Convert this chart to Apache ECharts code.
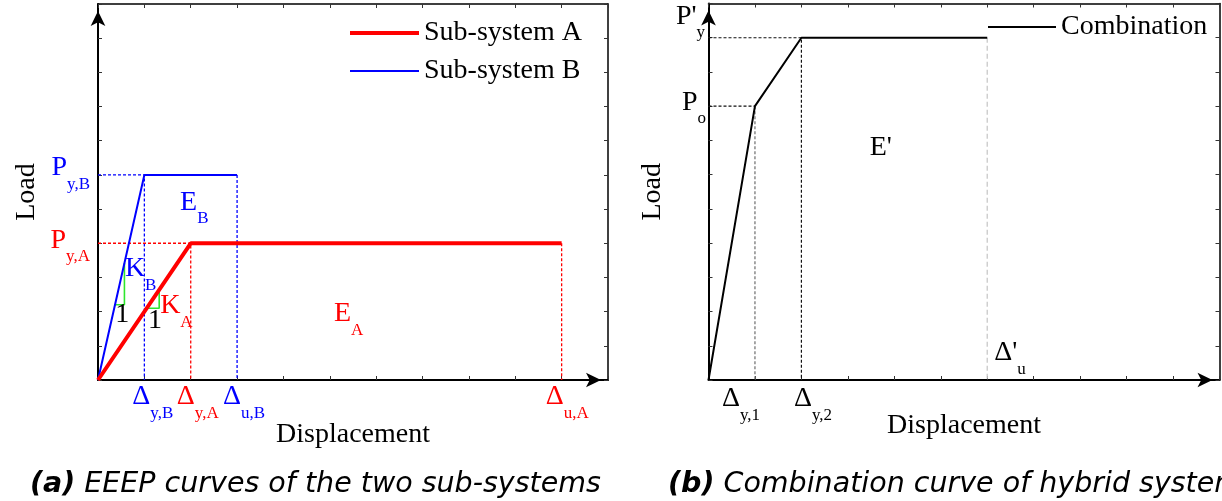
<!DOCTYPE html>
<html><head><meta charset="utf-8">
<script src="https://cdn.jsdelivr.net/npm/echarts@6/dist/echarts.min.js"></script>
<style>html,body{margin:0;padding:0;background:#fff}#c{width:1222px;height:501px}</style>
</head><body><div id="c"></div>
<script>
// ---------------- data (in axis units) ----------------
const axisMax = 11;
// (a) EEEP curves: origin -> yield point -> ultimate point
const subSystemA = [[0, 0], [2, 4], [10, 4]];
const subSystemB = [[0, 0], [1, 6], [3, 6]];
// stiffness triangles (K_A, K_B) drawn on the elastic branches
const slopeTriangleB = [[0.36, 2.2], [0.57, 2.2], [0.57, 3.42]];
const slopeTriangleA = [[1.05, 2.1], [1.32, 2.1], [1.32, 2.64]];
// (b) combination curve
const combination = [[0, 0], [1, 8], [2, 10], [6, 10]];

// tick labels
const leftXTicks = [
  {value: 1, text: 'Δ', sub: 'y,B', sys: 'B'},
  {value: 2, text: 'Δ', sub: 'y,A', sys: 'A'},
  {value: 3, text: 'Δ', sub: 'u,B', sys: 'B'},
  {value: 10, text: 'Δ', sub: 'u,A', sys: 'A'}
];
const leftYTicks = [
  {value: 6, text: 'P', sub: 'y,B', sys: 'B'},
  {value: 4, text: 'P', sub: 'y,A', sys: 'A'}
];
const rightXTicks = [
  {value: 1, text: 'Δ', sub: 'y,1'},
  {value: 2, text: 'Δ', sub: 'y,2'}
];
const rightYTicks = [
  {value: 10, text: "P'", sub: 'y'},
  {value: 8, text: 'P', sub: 'o'}
];
// in-plot notes (anchor in axis units)
const leftNotes = [
  {at: [0.58, 3.14], text: 'K', sub: 'B', sys: 'B'},
  {at: [0.37, 1.90], text: '1'},
  {at: [1.08, 1.73], text: '1'},
  {at: [1.34, 2.06], text: 'K', sub: 'A', sys: 'A'},
  {at: [1.77, 5.08], text: 'E', sub: 'B', sys: 'B'},
  {at: [5.09, 1.81], text: 'E', sub: 'A', sys: 'A'}
];
const rightNotes = [
  {at: [3.47, 6.80], text: "E'"},
  {at: [6.15, 0.67], text: "Δ'", sub: 'u'}
];
const seriesNames = ['Sub-system A', 'Sub-system B', 'Combination'];
const captions = [['(a)', ' EEEP curves of the two sub-systems'], ['(b)', ' Combination curve of hybrid system']];

// ---------------- layout / style (pixels) ----------------
const leftXTickShift = [[-12, 21], [-14, 21], [-14, 21], [-16, 21]];
const leftYTickShift = [[-8, -3], [-8, 1]];
const rightXTickShift = [[-33, 23], [-7.5, 23]];
const rightYTickShift = [[-32.5, -17.5], [-26.5, 0]];
const SUB_SHIFT = 7;

const SERIF = '"Liberation Serif","Times New Roman",serif';
const SANS = '"DejaVu Sans",sans-serif';
const RED = '#ff0000', BLUE = '#0000ff', BLACK = '#000000', GREEN = '#2ee62e';

const RICH = {};
[['R', RED], ['B', BLUE], ['K', BLACK]].forEach(([k, c]) => {
  RICH['m' + k] = {fontFamily: SERIF, fontSize: 28, lineHeight: 28, padding: [0, 0, 11, 0], verticalAlign: 'bottom', color: c};
  RICH['s' + k] = {fontFamily: SERIF, fontSize: 17, lineHeight: 17, verticalAlign: 'bottom', color: c};
  RICH['p' + k] = {fontFamily: SERIF, fontSize: 28, lineHeight: 28, color: c};
});
function richText(t) {
  const k = t.sys === 'A' ? 'R' : (t.sys === 'B' ? 'B' : 'K');
  return t.sub ? `{m${k}|${t.text}}{s${k}|${t.sub}}` : `{p${k}|${t.text}}`;
}
function item(coord, t, align, offset) {
  const off = [offset[0], offset[1] + (t.sub ? SUB_SHIFT : 0)];
  return {value: coord, rt: richText(t), label: {align: align, offset: off}};
}
function annot(xi, yi, items) {
  return {
    type: 'scatter', xAxisIndex: xi, yAxisIndex: yi, symbolSize: 1, clip: false, silent: true, z: 10,
    itemStyle: {color: 'rgba(0,0,0,0)', opacity: 1},
    label: {show: true, position: 'inside', verticalAlign: 'middle', align: 'left', opacity: 1, formatter: p => p.data.rt, rich: RICH},
    data: items
  };
}
function path(xi, yi, data, color, width, type, name) {
  const s = {type: 'line', xAxisIndex: xi, yAxisIndex: yi, data: data, symbol: 'none', silent: true,
    lineStyle: {color: color, width: width, type: type || 'solid'}, itemStyle: {color: color}};
  if (name) s.name = name;
  return s;
}
function mainX(gi, gap) {
  return {type: 'value', gridIndex: gi, min: 0, max: axisMax, interval: 1, position: 'bottom',
    axisLine: {show: true, onZero: false, lineStyle: {color: '#000', width: 2}, symbol: ['none', 'arrow'], symbolSize: [11, 15], symbolOffset: [0, -7]},
    axisTick: {show: true, inside: true, length: 4, lineStyle: {color: '#333', width: 1}},
    axisLabel: {show: false}, splitLine: {show: false},
    name: 'Displacement', nameLocation: 'middle', nameGap: gap,
    nameTextStyle: {fontFamily: SERIF, fontSize: 28, color: '#000'}};
}
function mainY(gi, gap) {
  return {type: 'value', gridIndex: gi, min: 0, max: axisMax, interval: 1, position: 'left',
    axisLine: {show: true, onZero: false, lineStyle: {color: '#000', width: 2}, symbol: ['none', 'arrow'], symbolSize: [11, 15], symbolOffset: [0, -7]},
    axisTick: {show: true, inside: true, length: 4, lineStyle: {color: '#333', width: 1}},
    axisLabel: {show: false}, splitLine: {show: false},
    name: 'Load', nameLocation: 'middle', nameGap: gap,
    nameTextStyle: {fontFamily: SERIF, fontSize: 28, color: '#000'}};
}
function frame(kind, gi) {
  return {type: 'value', gridIndex: gi, min: 0, max: axisMax, interval: 1, position: kind,
    axisLine: {show: true, onZero: false, lineStyle: {color: '#000', width: 1.5}},
    axisTick: {show: true, inside: true, length: 4, lineStyle: {color: '#333', width: 1}},
    axisLabel: {show: false}, splitLine: {show: false}};
}

const yA = subSystemA[1], uA = subSystemA[2];
const yB = subSystemB[1], uB = subSystemB[2];
const y1 = combination[1], y2 = combination[2], uC = combination[3];

const legendText = {fontFamily: SERIF, fontSize: 28, color: '#000'};
const option = {
  animation: false,
  backgroundColor: '#fff',
  title: captions.map((c, i) => ({
    text: `{b|${c[0]}}{i|${c[1]}}`, left: i === 0 ? 30 : 668, top: 471, padding: 0,
    textStyle: {fontWeight: 'normal', rich: {
      b: {fontFamily: SANS, fontSize: 28.5, lineHeight: 28, fontWeight: 'bold', fontStyle: 'italic', color: '#000'},
      i: {fontFamily: SANS, fontSize: 28.5, lineHeight: 28, fontWeight: 'normal', fontStyle: 'italic', color: '#000'}
    }}
  })),
  legend: [
    {data: [{name: seriesNames[0], lineStyle: {width: 4}}, {name: seriesNames[1], lineStyle: {width: 2}}],
      orient: 'vertical', left: 348, top: 19, padding: 0,
      itemWidth: 69, itemHeight: 28, itemGap: 10, selectedMode: false,
      itemStyle: {opacity: 0}, textStyle: legendText},
    {data: [{name: seriesNames[2], lineStyle: {width: 2}}], left: 987, top: 13, padding: 0,
      itemWidth: 68, itemHeight: 28, selectedMode: false,
      itemStyle: {opacity: 0}, textStyle: legendText}
  ],
  grid: [
    {left: 98, top: 4, width: 510, height: 376, containLabel: false, outerBoundsMode: 'none'},
    {left: 708.5, top: 3.5, width: 511, height: 376.5, containLabel: false, outerBoundsMode: 'none'}
  ],
  xAxis: [mainX(0, 41), frame('top', 0), mainX(1, 32), frame('top', 1)],
  yAxis: [mainY(0, 57), frame('right', 0), mainY(1, 42), frame('right', 1)],
  series: [
    // (a) guide lines
    path(0, 0, [[0, yB[1]], yB, [yB[0], 0]], BLUE, 1.3, [3, 2]),
    path(0, 0, [uB, [uB[0], 0]], BLUE, 1.3, [3, 2]),
    path(0, 0, [[0, yA[1]], yA, [yA[0], 0]], RED, 1.3, [3, 2]),
    path(0, 0, [uA, [uA[0], 0]], RED, 1.3, [3, 2]),
    path(0, 0, slopeTriangleB, GREEN, 1.6),
    path(0, 0, slopeTriangleA, GREEN, 1.6),
    path(0, 0, subSystemB, BLUE, 2, 'solid', seriesNames[1]),
    path(0, 0, subSystemA, RED, 4, 'solid', seriesNames[0]),
    // (b) guide lines
    path(2, 2, [[0, y2[1]], y2, [y2[0], 0]], '#111', 1.2, [3, 2]),
    path(2, 2, [[0, y1[1]], y1], '#111', 1.2, [3, 2]),
    path(2, 2, [y1, [y1[0], 0]], '#777', 1.3, [3, 2]),
    path(2, 2, [uC, [uC[0], 0]], '#c8c8c8', 1.3, [5, 3]),
    path(2, 2, combination, BLACK, 2, 'solid', seriesNames[2]),
    // annotations
    annot(0, 0, [].concat(
      leftXTicks.map((t, i) => item([t.value, 0], t, 'left', leftXTickShift[i])),
      leftYTicks.map((t, i) => item([0, t.value], t, 'right', leftYTickShift[i])),
      leftNotes.map(t => item(t.at, t, 'left', [0, 0]))
    )),
    annot(2, 2, [].concat(
      rightXTicks.map((t, i) => item([t.value, 0], t, 'left', rightXTickShift[i])),
      rightYTicks.map((t, i) => item([0, t.value], t, 'left', rightYTickShift[i])),
      rightNotes.map(t => item(t.at, t, 'left', [0, 0]))
    ))
  ]
};
const chart = echarts.init(document.getElementById('c'), null, {renderer: 'canvas'});
chart.setOption(option);
</script>
</body></html>
